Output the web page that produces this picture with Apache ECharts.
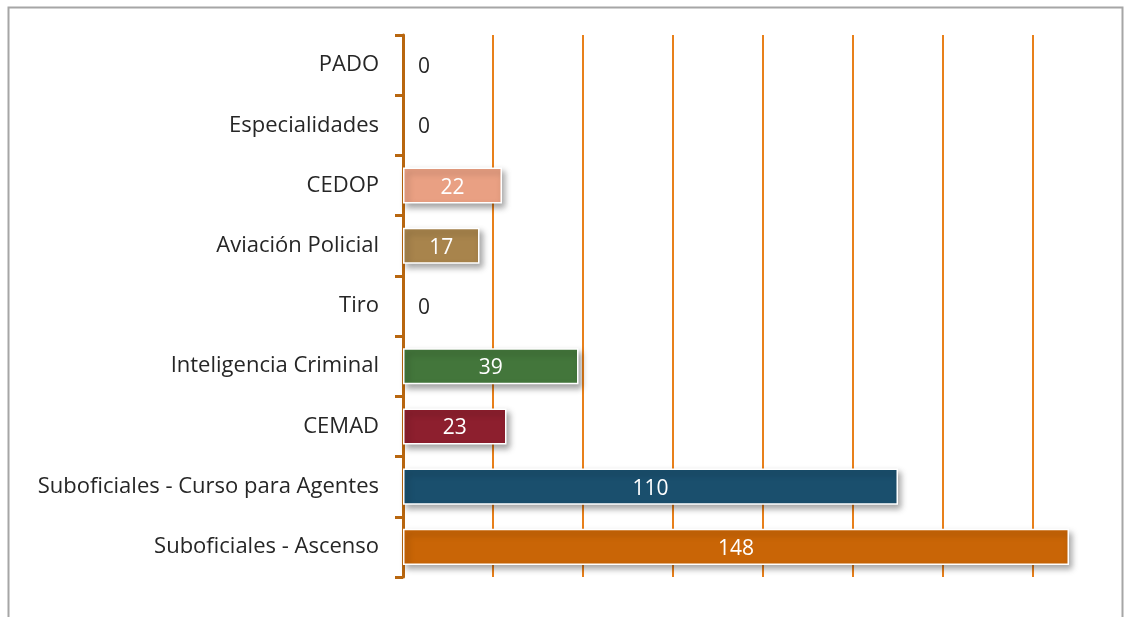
<!DOCTYPE html>
<html>
<head>
<meta charset="utf-8">
<script src="https://cdn.jsdelivr.net/npm/echarts@6/dist/echarts.min.js"></script>
<style>html,body{margin:0;padding:0;background:#fff;}#c{width:1126px;height:617px;}</style>
</head>
<body>
<div id="c"></div>
<script>
const categories = ['Suboficiales - Ascenso', 'Suboficiales - Curso para Agentes', 'CEMAD', 'Inteligencia Criminal', 'Tiro', 'Aviación Policial', 'CEDOP', 'Especialidades', 'PADO'];
const values = [148, 110, 23, 39, 0, 17, 22, 0, 0];
const colors = ['#c96506', '#1a4f6d', '#8d1f2e', '#43763b', '#888888', '#a8844c', '#e9a083', '#888888', '#888888'];

const chart = echarts.init(document.getElementById('c'));
const fontFam = '"Open Sans", sans-serif';
chart.setOption({
  animation: false,
  backgroundColor: '#fff',
  graphic: [{
    type: 'rect', z: 100, silent: true,
    shape: { x: 8.5, y: 7.5, width: 1114, height: 620 },
    style: { fill: 'none', stroke: '#a6a6a6', lineWidth: 2 }
  }],
  grid: { left: 403, right: 3, top: 35, bottom: 40, containLabel: false },
  xAxis: {
    type: 'value', min: 0, max: 160, interval: 20,
    axisLabel: { show: false },
    axisLine: { show: false },
    axisTick: { show: false },
    splitLine: { show: true, showMaxLine: false, lineStyle: { color: '#e8801a', width: 2 } }
  },
  yAxis: {
    type: 'category', data: categories,
    axisLine: { show: true, lineStyle: { color: '#b8660f', width: 3 } },
    axisTick: { show: true, length: 8, inside: false, lineStyle: { color: '#b8660f', width: 3 } },
    axisLabel: { color: '#262626', fontSize: 22, fontFamily: fontFam, margin: 24, padding: [4, 0, 0, 0], letterSpacing: 0.2 }
  },
  series: [{
    type: 'bar',
    barWidth: '60%',
    data: values.map((v, i) => ({
      value: v,
      itemStyle: v === 0 ? { color: 'rgba(0,0,0,0)', borderWidth: 0, shadowBlur: 0, shadowOffsetX: 0, shadowOffsetY: 0, shadowColor: 'rgba(0,0,0,0)' } : { color: colors[i] },
      label: v === 0 ? { position: 'insideLeft', color: '#262626', offset: [10, 2] } : {}
    })),
    itemStyle: {
      borderColor: '#ffffff', borderWidth: 1.5,
      shadowColor: 'rgba(0,0,0,0.35)', shadowBlur: 6, shadowOffsetX: 3, shadowOffsetY: 4
    },
    label: { show: true, position: 'inside', color: '#ffffff', fontSize: 21, fontFamily: fontFam, offset: [0, 2] }
  }]
});
</script>
</body>
</html>
